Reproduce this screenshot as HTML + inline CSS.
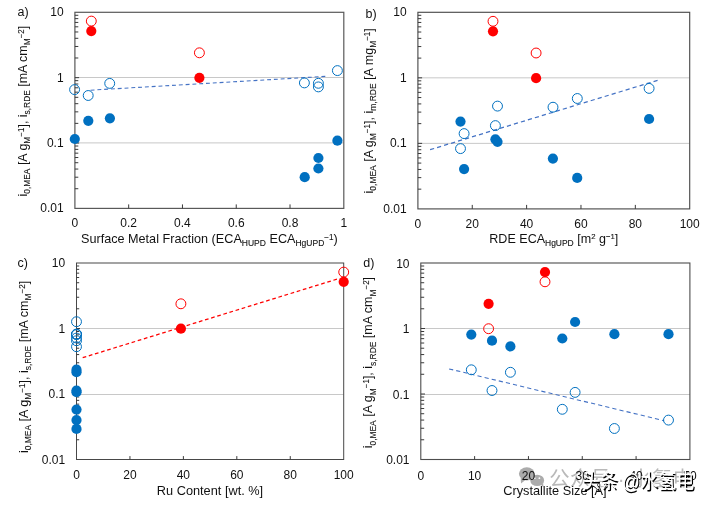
<!DOCTYPE html>
<html lang="en">
<head>
<meta charset="utf-8">
<title>Figure</title>
<style>
html, body { margin: 0; padding: 0; background: #ffffff; }
body { width: 710px; height: 505px; overflow: hidden; }
svg { display: block; font-family: "Liberation Sans", "Noto Sans CJK SC", sans-serif; fill: #111111; }
svg text { white-space: pre; }
</style>
</head>
<body>
<svg width="710" height="505" viewBox="0 0 710 505">
<rect x="0" y="0" width="710" height="505" fill="#ffffff"/>
<g fill="#ababab" transform="translate(0.2,0.6)"><ellipse cx="526.6" cy="473.2" rx="7.9" ry="6.6"/><path d="M520.5 477.5 L520.8 482.8 L525.5 479.2 Z"/><ellipse cx="537" cy="479.8" rx="6.9" ry="5.7"/><path d="M540.5 484 L543.2 487 L543 483 Z"/></g>
<circle cx="534.7" cy="478.2" r="0.9" fill="#fff"/><circle cx="539.4" cy="478.2" r="0.9" fill="#fff"/>
<text x="549.3" y="485.6" font-size="20.4" fill="#b9b9b9" textLength="143.5" lengthAdjust="spacing">公众号 · 水氢电</text>
<line x1="74.9" y1="77.50" x2="343.8" y2="77.50" stroke="#C8C8C8" stroke-width="1"/>
<line x1="74.9" y1="142.90" x2="343.8" y2="142.90" stroke="#C8C8C8" stroke-width="1"/>
<rect x="74.9" y="12.3" width="268.90" height="196.10" fill="none" stroke="#595959" stroke-width="1.2"/>
<line x1="74.9" y1="188.72" x2="78.30000000000001" y2="188.72" stroke="#3a3a3a" stroke-width="1"/>
<line x1="74.9" y1="177.21" x2="78.30000000000001" y2="177.21" stroke="#3a3a3a" stroke-width="1"/>
<line x1="74.9" y1="169.05" x2="78.30000000000001" y2="169.05" stroke="#3a3a3a" stroke-width="1"/>
<line x1="74.9" y1="162.71" x2="78.30000000000001" y2="162.71" stroke="#3a3a3a" stroke-width="1"/>
<line x1="74.9" y1="157.53" x2="78.30000000000001" y2="157.53" stroke="#3a3a3a" stroke-width="1"/>
<line x1="74.9" y1="153.16" x2="78.30000000000001" y2="153.16" stroke="#3a3a3a" stroke-width="1"/>
<line x1="74.9" y1="149.37" x2="78.30000000000001" y2="149.37" stroke="#3a3a3a" stroke-width="1"/>
<line x1="74.9" y1="146.02" x2="78.30000000000001" y2="146.02" stroke="#3a3a3a" stroke-width="1"/>
<line x1="74.9" y1="143.03" x2="79.10000000000001" y2="143.03" stroke="#3a3a3a" stroke-width="1"/>
<line x1="74.9" y1="123.36" x2="78.30000000000001" y2="123.36" stroke="#3a3a3a" stroke-width="1"/>
<line x1="74.9" y1="111.85" x2="78.30000000000001" y2="111.85" stroke="#3a3a3a" stroke-width="1"/>
<line x1="74.9" y1="103.68" x2="78.30000000000001" y2="103.68" stroke="#3a3a3a" stroke-width="1"/>
<line x1="74.9" y1="97.34" x2="78.30000000000001" y2="97.34" stroke="#3a3a3a" stroke-width="1"/>
<line x1="74.9" y1="92.17" x2="78.30000000000001" y2="92.17" stroke="#3a3a3a" stroke-width="1"/>
<line x1="74.9" y1="87.79" x2="78.30000000000001" y2="87.79" stroke="#3a3a3a" stroke-width="1"/>
<line x1="74.9" y1="84.00" x2="78.30000000000001" y2="84.00" stroke="#3a3a3a" stroke-width="1"/>
<line x1="74.9" y1="80.66" x2="78.30000000000001" y2="80.66" stroke="#3a3a3a" stroke-width="1"/>
<line x1="74.9" y1="77.67" x2="79.10000000000001" y2="77.67" stroke="#3a3a3a" stroke-width="1"/>
<line x1="74.9" y1="57.99" x2="78.30000000000001" y2="57.99" stroke="#3a3a3a" stroke-width="1"/>
<line x1="74.9" y1="46.48" x2="78.30000000000001" y2="46.48" stroke="#3a3a3a" stroke-width="1"/>
<line x1="74.9" y1="38.31" x2="78.30000000000001" y2="38.31" stroke="#3a3a3a" stroke-width="1"/>
<line x1="74.9" y1="31.98" x2="78.30000000000001" y2="31.98" stroke="#3a3a3a" stroke-width="1"/>
<line x1="74.9" y1="26.80" x2="78.30000000000001" y2="26.80" stroke="#3a3a3a" stroke-width="1"/>
<line x1="74.9" y1="22.43" x2="78.30000000000001" y2="22.43" stroke="#3a3a3a" stroke-width="1"/>
<line x1="74.9" y1="18.63" x2="78.30000000000001" y2="18.63" stroke="#3a3a3a" stroke-width="1"/>
<line x1="74.9" y1="15.29" x2="78.30000000000001" y2="15.29" stroke="#3a3a3a" stroke-width="1"/>
<line x1="128.68" y1="208.4" x2="128.68" y2="204.4" stroke="#3a3a3a" stroke-width="1"/>
<line x1="182.46" y1="208.4" x2="182.46" y2="204.4" stroke="#3a3a3a" stroke-width="1"/>
<line x1="236.24" y1="208.4" x2="236.24" y2="204.4" stroke="#3a3a3a" stroke-width="1"/>
<line x1="290.02" y1="208.4" x2="290.02" y2="204.4" stroke="#3a3a3a" stroke-width="1"/>
<text x="63.60" y="16.20" text-anchor="end" font-size="12">10</text>
<text x="63.60" y="81.57" text-anchor="end" font-size="12">1</text>
<text x="63.60" y="146.93" text-anchor="end" font-size="12">0.1</text>
<text x="63.60" y="212.30" text-anchor="end" font-size="12">0.01</text>
<text x="74.90" y="226.70" text-anchor="middle" font-size="12">0</text>
<text x="128.68" y="226.70" text-anchor="middle" font-size="12">0.2</text>
<text x="182.46" y="226.70" text-anchor="middle" font-size="12">0.4</text>
<text x="236.24" y="226.70" text-anchor="middle" font-size="12">0.6</text>
<text x="290.02" y="226.70" text-anchor="middle" font-size="12">0.8</text>
<text x="343.80" y="226.70" text-anchor="middle" font-size="12">1</text>
<line x1="90.6" y1="90.2" x2="326.8" y2="76.3" stroke="#4472C4" stroke-width="1.1" stroke-dasharray="3.9 2.9"/>
<circle cx="74.80" cy="139.00" r="5.1" fill="#0070C0"/>
<circle cx="88.30" cy="120.80" r="5.1" fill="#0070C0"/>
<circle cx="109.90" cy="118.30" r="5.1" fill="#0070C0"/>
<circle cx="304.70" cy="177.20" r="5.1" fill="#0070C0"/>
<circle cx="318.40" cy="158.00" r="5.1" fill="#0070C0"/>
<circle cx="318.40" cy="168.50" r="5.1" fill="#0070C0"/>
<circle cx="337.40" cy="140.70" r="5.1" fill="#0070C0"/>
<circle cx="74.60" cy="89.60" r="4.95" fill="none" stroke="#0070C0" stroke-width="1.0"/>
<circle cx="88.20" cy="95.50" r="4.95" fill="none" stroke="#0070C0" stroke-width="1.0"/>
<circle cx="109.70" cy="83.40" r="4.95" fill="none" stroke="#0070C0" stroke-width="1.0"/>
<circle cx="304.40" cy="82.90" r="4.95" fill="none" stroke="#0070C0" stroke-width="1.0"/>
<circle cx="318.40" cy="83.30" r="4.95" fill="none" stroke="#0070C0" stroke-width="1.0"/>
<circle cx="318.40" cy="86.90" r="4.95" fill="none" stroke="#0070C0" stroke-width="1.0"/>
<circle cx="337.40" cy="70.60" r="4.95" fill="none" stroke="#0070C0" stroke-width="1.0"/>
<circle cx="91.30" cy="31.10" r="5.1" fill="#FF0000"/>
<circle cx="199.40" cy="77.80" r="5.1" fill="#FF0000"/>
<circle cx="91.30" cy="21.10" r="4.95" fill="none" stroke="#FF0000" stroke-width="1.0"/>
<circle cx="199.40" cy="52.80" r="4.95" fill="none" stroke="#FF0000" stroke-width="1.0"/>
<text transform="translate(26.7,111.1) rotate(-90) scale(0.976,1)" text-anchor="middle" font-size="12.75">i<tspan dy="3.30" font-size="8.6" stroke="#111111" stroke-width="0.1">0,MEA</tspan><tspan dy="-3.30"> [A g</tspan><tspan dy="3.30" font-size="8.6" stroke="#111111" stroke-width="0.1">M</tspan><tspan dy="-6.50" font-size="8.2" stroke="#111111" stroke-width="0.1">−1</tspan><tspan dy="3.20">], i</tspan><tspan dy="3.30" font-size="8.6" stroke="#111111" stroke-width="0.1">s,RDE</tspan><tspan dy="-3.30"> [mA cm</tspan><tspan dy="3.30" font-size="8.6" stroke="#111111" stroke-width="0.1">M</tspan><tspan dy="-6.50" font-size="8.2" stroke="#111111" stroke-width="0.1">−2</tspan><tspan dy="3.20">]</tspan></text>
<text x="17.5" y="16" font-size="12.5">a)</text>
<text transform="translate(209.4,243) scale(0.992,1)" text-anchor="middle" font-size="12.75">Surface Metal Fraction (ECA<tspan dy="3.30" font-size="8.6" stroke="#111111" stroke-width="0.1">HUPD</tspan><tspan dy="-3.30"> ECA</tspan><tspan dy="3.30" font-size="8.6" stroke="#111111" stroke-width="0.1">HgUPD</tspan><tspan dy="-6.50" font-size="8.2" stroke="#111111" stroke-width="0.1">−1</tspan><tspan dy="3.20">)</tspan></text>
<line x1="417.9" y1="77.83" x2="689.7" y2="77.83" stroke="#C8C8C8" stroke-width="1"/>
<line x1="417.9" y1="143.37" x2="689.7" y2="143.37" stroke="#C8C8C8" stroke-width="1"/>
<rect x="417.9" y="12.3" width="271.80" height="196.60" fill="none" stroke="#4d4d4d" stroke-width="1.15"/>
<line x1="417.9" y1="189.17" x2="421.29999999999995" y2="189.17" stroke="#3a3a3a" stroke-width="1"/>
<line x1="417.9" y1="177.63" x2="421.29999999999995" y2="177.63" stroke="#3a3a3a" stroke-width="1"/>
<line x1="417.9" y1="169.45" x2="421.29999999999995" y2="169.45" stroke="#3a3a3a" stroke-width="1"/>
<line x1="417.9" y1="163.09" x2="421.29999999999995" y2="163.09" stroke="#3a3a3a" stroke-width="1"/>
<line x1="417.9" y1="157.91" x2="421.29999999999995" y2="157.91" stroke="#3a3a3a" stroke-width="1"/>
<line x1="417.9" y1="153.52" x2="421.29999999999995" y2="153.52" stroke="#3a3a3a" stroke-width="1"/>
<line x1="417.9" y1="149.72" x2="421.29999999999995" y2="149.72" stroke="#3a3a3a" stroke-width="1"/>
<line x1="417.9" y1="146.37" x2="421.29999999999995" y2="146.37" stroke="#3a3a3a" stroke-width="1"/>
<line x1="417.9" y1="143.37" x2="422.09999999999997" y2="143.37" stroke="#3a3a3a" stroke-width="1"/>
<line x1="417.9" y1="123.64" x2="421.29999999999995" y2="123.64" stroke="#3a3a3a" stroke-width="1"/>
<line x1="417.9" y1="112.10" x2="421.29999999999995" y2="112.10" stroke="#3a3a3a" stroke-width="1"/>
<line x1="417.9" y1="103.91" x2="421.29999999999995" y2="103.91" stroke="#3a3a3a" stroke-width="1"/>
<line x1="417.9" y1="97.56" x2="421.29999999999995" y2="97.56" stroke="#3a3a3a" stroke-width="1"/>
<line x1="417.9" y1="92.37" x2="421.29999999999995" y2="92.37" stroke="#3a3a3a" stroke-width="1"/>
<line x1="417.9" y1="87.98" x2="421.29999999999995" y2="87.98" stroke="#3a3a3a" stroke-width="1"/>
<line x1="417.9" y1="84.18" x2="421.29999999999995" y2="84.18" stroke="#3a3a3a" stroke-width="1"/>
<line x1="417.9" y1="80.83" x2="421.29999999999995" y2="80.83" stroke="#3a3a3a" stroke-width="1"/>
<line x1="417.9" y1="77.83" x2="422.09999999999997" y2="77.83" stroke="#3a3a3a" stroke-width="1"/>
<line x1="417.9" y1="58.11" x2="421.29999999999995" y2="58.11" stroke="#3a3a3a" stroke-width="1"/>
<line x1="417.9" y1="46.57" x2="421.29999999999995" y2="46.57" stroke="#3a3a3a" stroke-width="1"/>
<line x1="417.9" y1="38.38" x2="421.29999999999995" y2="38.38" stroke="#3a3a3a" stroke-width="1"/>
<line x1="417.9" y1="32.03" x2="421.29999999999995" y2="32.03" stroke="#3a3a3a" stroke-width="1"/>
<line x1="417.9" y1="26.84" x2="421.29999999999995" y2="26.84" stroke="#3a3a3a" stroke-width="1"/>
<line x1="417.9" y1="22.45" x2="421.29999999999995" y2="22.45" stroke="#3a3a3a" stroke-width="1"/>
<line x1="417.9" y1="18.65" x2="421.29999999999995" y2="18.65" stroke="#3a3a3a" stroke-width="1"/>
<line x1="417.9" y1="15.30" x2="421.29999999999995" y2="15.30" stroke="#3a3a3a" stroke-width="1"/>
<line x1="472.26" y1="208.9" x2="472.26" y2="204.9" stroke="#3a3a3a" stroke-width="1"/>
<line x1="526.62" y1="208.9" x2="526.62" y2="204.9" stroke="#3a3a3a" stroke-width="1"/>
<line x1="580.98" y1="208.9" x2="580.98" y2="204.9" stroke="#3a3a3a" stroke-width="1"/>
<line x1="635.34" y1="208.9" x2="635.34" y2="204.9" stroke="#3a3a3a" stroke-width="1"/>
<text x="406.60" y="16.20" text-anchor="end" font-size="12">10</text>
<text x="406.60" y="81.73" text-anchor="end" font-size="12">1</text>
<text x="406.60" y="147.27" text-anchor="end" font-size="12">0.1</text>
<text x="406.60" y="212.80" text-anchor="end" font-size="12">0.01</text>
<text x="417.90" y="227.70" text-anchor="middle" font-size="12">0</text>
<text x="472.26" y="227.70" text-anchor="middle" font-size="12">20</text>
<text x="526.62" y="227.70" text-anchor="middle" font-size="12">40</text>
<text x="580.98" y="227.70" text-anchor="middle" font-size="12">60</text>
<text x="635.34" y="227.70" text-anchor="middle" font-size="12">80</text>
<text x="689.70" y="227.70" text-anchor="middle" font-size="12">100</text>
<line x1="430.1" y1="149.7" x2="658.4" y2="80.1" stroke="#4472C4" stroke-width="1.25" stroke-dasharray="4.2 3.1"/>
<circle cx="460.50" cy="121.60" r="5.1" fill="#0070C0"/>
<circle cx="464.10" cy="169.10" r="5.1" fill="#0070C0"/>
<circle cx="495.40" cy="139.30" r="5.1" fill="#0070C0"/>
<circle cx="497.50" cy="141.80" r="5.1" fill="#0070C0"/>
<circle cx="552.90" cy="158.60" r="5.1" fill="#0070C0"/>
<circle cx="577.20" cy="177.90" r="5.1" fill="#0070C0"/>
<circle cx="649.10" cy="119.00" r="5.1" fill="#0070C0"/>
<circle cx="460.50" cy="148.60" r="4.95" fill="none" stroke="#0070C0" stroke-width="1.0"/>
<circle cx="464.10" cy="133.60" r="4.95" fill="none" stroke="#0070C0" stroke-width="1.0"/>
<circle cx="495.40" cy="125.60" r="4.95" fill="none" stroke="#0070C0" stroke-width="1.0"/>
<circle cx="497.50" cy="106.10" r="4.95" fill="none" stroke="#0070C0" stroke-width="1.0"/>
<circle cx="553.00" cy="107.20" r="4.95" fill="none" stroke="#0070C0" stroke-width="1.0"/>
<circle cx="577.30" cy="98.50" r="4.95" fill="none" stroke="#0070C0" stroke-width="1.0"/>
<circle cx="649.10" cy="88.40" r="4.95" fill="none" stroke="#0070C0" stroke-width="1.0"/>
<circle cx="493.00" cy="31.30" r="5.1" fill="#FF0000"/>
<circle cx="536.10" cy="78.20" r="5.1" fill="#FF0000"/>
<circle cx="493.00" cy="21.30" r="4.95" fill="none" stroke="#FF0000" stroke-width="1.0"/>
<circle cx="536.10" cy="53.00" r="4.95" fill="none" stroke="#FF0000" stroke-width="1.0"/>
<text transform="translate(372.7,110.8) rotate(-90) scale(0.985,1)" text-anchor="middle" font-size="12.75">i<tspan dy="3.30" font-size="8.6" stroke="#111111" stroke-width="0.1">0,MEA</tspan><tspan dy="-3.30"> [A g</tspan><tspan dy="3.30" font-size="8.6" stroke="#111111" stroke-width="0.1">M</tspan><tspan dy="-6.50" font-size="8.2" stroke="#111111" stroke-width="0.1">−1</tspan><tspan dy="3.20">], i</tspan><tspan dy="3.30" font-size="8.6" stroke="#111111" stroke-width="0.1">m,RDE</tspan><tspan dy="-3.30"> [A mg</tspan><tspan dy="3.30" font-size="8.6" stroke="#111111" stroke-width="0.1">M</tspan><tspan dy="-6.50" font-size="8.2" stroke="#111111" stroke-width="0.1">−1</tspan><tspan dy="3.20">]</tspan></text>
<text x="365.5" y="18" font-size="12.5">b)</text>
<text transform="translate(553.8,243) scale(0.985,1)" text-anchor="middle" font-size="12.75">RDE ECA<tspan dy="3.30" font-size="8.6" stroke="#111111" stroke-width="0.1">HgUPD</tspan><tspan dy="-3.30"> [m</tspan><tspan dy="-4.30" font-size="7.9" stroke="#111111" stroke-width="0.1">2</tspan><tspan dy="4.30"> g</tspan><tspan dy="-4.30" font-size="7.9" stroke="#111111" stroke-width="0.1">−1</tspan><tspan dy="4.30">]</tspan></text>
<line x1="76.5" y1="328.50" x2="343.7" y2="328.50" stroke="#C8C8C8" stroke-width="1"/>
<line x1="76.5" y1="394.50" x2="343.7" y2="394.50" stroke="#C8C8C8" stroke-width="1"/>
<rect x="76.5" y="263.0" width="267.20" height="196.50" fill="none" stroke="#484848" stroke-width="1.0"/>
<line x1="76.5" y1="439.78" x2="79.2" y2="439.78" stroke="#3a3a3a" stroke-width="1"/>
<line x1="76.5" y1="428.25" x2="79.2" y2="428.25" stroke="#3a3a3a" stroke-width="1"/>
<line x1="76.5" y1="420.07" x2="79.2" y2="420.07" stroke="#3a3a3a" stroke-width="1"/>
<line x1="76.5" y1="413.72" x2="79.2" y2="413.72" stroke="#3a3a3a" stroke-width="1"/>
<line x1="76.5" y1="408.53" x2="79.2" y2="408.53" stroke="#3a3a3a" stroke-width="1"/>
<line x1="76.5" y1="404.15" x2="79.2" y2="404.15" stroke="#3a3a3a" stroke-width="1"/>
<line x1="76.5" y1="400.35" x2="79.2" y2="400.35" stroke="#3a3a3a" stroke-width="1"/>
<line x1="76.5" y1="397.00" x2="79.2" y2="397.00" stroke="#3a3a3a" stroke-width="1"/>
<line x1="76.5" y1="394.00" x2="80.0" y2="394.00" stroke="#3a3a3a" stroke-width="1"/>
<line x1="76.5" y1="374.28" x2="79.2" y2="374.28" stroke="#3a3a3a" stroke-width="1"/>
<line x1="76.5" y1="362.75" x2="79.2" y2="362.75" stroke="#3a3a3a" stroke-width="1"/>
<line x1="76.5" y1="354.57" x2="79.2" y2="354.57" stroke="#3a3a3a" stroke-width="1"/>
<line x1="76.5" y1="348.22" x2="79.2" y2="348.22" stroke="#3a3a3a" stroke-width="1"/>
<line x1="76.5" y1="343.03" x2="79.2" y2="343.03" stroke="#3a3a3a" stroke-width="1"/>
<line x1="76.5" y1="338.65" x2="79.2" y2="338.65" stroke="#3a3a3a" stroke-width="1"/>
<line x1="76.5" y1="334.85" x2="79.2" y2="334.85" stroke="#3a3a3a" stroke-width="1"/>
<line x1="76.5" y1="331.50" x2="79.2" y2="331.50" stroke="#3a3a3a" stroke-width="1"/>
<line x1="76.5" y1="328.50" x2="80.0" y2="328.50" stroke="#3a3a3a" stroke-width="1"/>
<line x1="76.5" y1="308.78" x2="79.2" y2="308.78" stroke="#3a3a3a" stroke-width="1"/>
<line x1="76.5" y1="297.25" x2="79.2" y2="297.25" stroke="#3a3a3a" stroke-width="1"/>
<line x1="76.5" y1="289.07" x2="79.2" y2="289.07" stroke="#3a3a3a" stroke-width="1"/>
<line x1="76.5" y1="282.72" x2="79.2" y2="282.72" stroke="#3a3a3a" stroke-width="1"/>
<line x1="76.5" y1="277.53" x2="79.2" y2="277.53" stroke="#3a3a3a" stroke-width="1"/>
<line x1="76.5" y1="273.15" x2="79.2" y2="273.15" stroke="#3a3a3a" stroke-width="1"/>
<line x1="76.5" y1="269.35" x2="79.2" y2="269.35" stroke="#3a3a3a" stroke-width="1"/>
<line x1="76.5" y1="266.00" x2="79.2" y2="266.00" stroke="#3a3a3a" stroke-width="1"/>
<line x1="129.94" y1="459.5" x2="129.94" y2="456.1" stroke="#3a3a3a" stroke-width="1"/>
<line x1="183.38" y1="459.5" x2="183.38" y2="456.1" stroke="#3a3a3a" stroke-width="1"/>
<line x1="236.82" y1="459.5" x2="236.82" y2="456.1" stroke="#3a3a3a" stroke-width="1"/>
<line x1="290.26" y1="459.5" x2="290.26" y2="456.1" stroke="#3a3a3a" stroke-width="1"/>
<text x="65.20" y="267.40" text-anchor="end" font-size="12">10</text>
<text x="65.20" y="332.90" text-anchor="end" font-size="12">1</text>
<text x="65.20" y="398.40" text-anchor="end" font-size="12">0.1</text>
<text x="65.20" y="463.90" text-anchor="end" font-size="12">0.01</text>
<text x="76.50" y="479.00" text-anchor="middle" font-size="12">0</text>
<text x="129.94" y="479.00" text-anchor="middle" font-size="12">20</text>
<text x="183.38" y="479.00" text-anchor="middle" font-size="12">40</text>
<text x="236.82" y="479.00" text-anchor="middle" font-size="12">60</text>
<text x="290.26" y="479.00" text-anchor="middle" font-size="12">80</text>
<text x="343.70" y="479.00" text-anchor="middle" font-size="12">100</text>
<line x1="82.7" y1="357.7" x2="339.4" y2="278.4" stroke="#FF0000" stroke-width="1.25" stroke-dasharray="3.7 2.7"/>
<circle cx="76.50" cy="390.52" r="5.1" fill="#0070C0"/>
<circle cx="76.50" cy="372.23" r="5.1" fill="#0070C0"/>
<circle cx="76.50" cy="369.70" r="5.1" fill="#0070C0"/>
<circle cx="76.50" cy="428.92" r="5.1" fill="#0070C0"/>
<circle cx="76.50" cy="409.59" r="5.1" fill="#0070C0"/>
<circle cx="76.50" cy="420.07" r="5.1" fill="#0070C0"/>
<circle cx="76.50" cy="392.21" r="5.1" fill="#0070C0"/>
<circle cx="76.50" cy="340.75" r="4.95" fill="none" stroke="#0070C0" stroke-width="1.0"/>
<circle cx="76.50" cy="346.72" r="4.95" fill="none" stroke="#0070C0" stroke-width="1.0"/>
<circle cx="76.50" cy="334.49" r="4.95" fill="none" stroke="#0070C0" stroke-width="1.0"/>
<circle cx="76.50" cy="334.04" r="4.95" fill="none" stroke="#0070C0" stroke-width="1.0"/>
<circle cx="76.50" cy="334.49" r="4.95" fill="none" stroke="#0070C0" stroke-width="1.0"/>
<circle cx="76.50" cy="338.04" r="4.95" fill="none" stroke="#0070C0" stroke-width="1.0"/>
<circle cx="76.50" cy="321.70" r="4.95" fill="none" stroke="#0070C0" stroke-width="1.0"/>
<circle cx="180.90" cy="328.70" r="5.1" fill="#FF0000"/>
<circle cx="343.70" cy="281.80" r="5.1" fill="#FF0000"/>
<circle cx="180.90" cy="303.80" r="4.95" fill="none" stroke="#FF0000" stroke-width="1.0"/>
<circle cx="343.70" cy="272.10" r="4.95" fill="none" stroke="#FF0000" stroke-width="1.0"/>
<text transform="translate(27.8,366.9) rotate(-90) scale(0.9855,1)" text-anchor="middle" font-size="12.75">i<tspan dy="3.30" font-size="8.6" stroke="#111111" stroke-width="0.1">0,MEA</tspan><tspan dy="-3.30"> [A g</tspan><tspan dy="3.30" font-size="8.6" stroke="#111111" stroke-width="0.1">M</tspan><tspan dy="-6.50" font-size="8.2" stroke="#111111" stroke-width="0.1">−1</tspan><tspan dy="3.20">], i</tspan><tspan dy="3.30" font-size="8.6" stroke="#111111" stroke-width="0.1">s,RDE</tspan><tspan dy="-3.30"> [mA cm</tspan><tspan dy="3.30" font-size="8.6" stroke="#111111" stroke-width="0.1">M</tspan><tspan dy="-6.50" font-size="8.2" stroke="#111111" stroke-width="0.1">−2</tspan><tspan dy="3.20">]</tspan></text>
<text x="17.6" y="267.2" font-size="12.5">c)</text>
<text x="210" y="494.7" text-anchor="middle" font-size="12.75">Ru Content [wt. %]</text>
<line x1="420.8" y1="328.50" x2="689.9" y2="328.50" stroke="#C8C8C8" stroke-width="1"/>
<line x1="420.8" y1="394.50" x2="689.9" y2="394.50" stroke="#C8C8C8" stroke-width="1"/>
<rect x="420.8" y="263.0" width="269.10" height="196.50" fill="none" stroke="#4d4d4d" stroke-width="1.1"/>
<line x1="420.8" y1="439.78" x2="424.2" y2="439.78" stroke="#3a3a3a" stroke-width="1"/>
<line x1="420.8" y1="428.25" x2="424.2" y2="428.25" stroke="#3a3a3a" stroke-width="1"/>
<line x1="420.8" y1="420.07" x2="424.2" y2="420.07" stroke="#3a3a3a" stroke-width="1"/>
<line x1="420.8" y1="413.72" x2="424.2" y2="413.72" stroke="#3a3a3a" stroke-width="1"/>
<line x1="420.8" y1="408.53" x2="424.2" y2="408.53" stroke="#3a3a3a" stroke-width="1"/>
<line x1="420.8" y1="404.15" x2="424.2" y2="404.15" stroke="#3a3a3a" stroke-width="1"/>
<line x1="420.8" y1="400.35" x2="424.2" y2="400.35" stroke="#3a3a3a" stroke-width="1"/>
<line x1="420.8" y1="397.00" x2="424.2" y2="397.00" stroke="#3a3a3a" stroke-width="1"/>
<line x1="420.8" y1="394.00" x2="425.0" y2="394.00" stroke="#3a3a3a" stroke-width="1"/>
<line x1="420.8" y1="374.28" x2="424.2" y2="374.28" stroke="#3a3a3a" stroke-width="1"/>
<line x1="420.8" y1="362.75" x2="424.2" y2="362.75" stroke="#3a3a3a" stroke-width="1"/>
<line x1="420.8" y1="354.57" x2="424.2" y2="354.57" stroke="#3a3a3a" stroke-width="1"/>
<line x1="420.8" y1="348.22" x2="424.2" y2="348.22" stroke="#3a3a3a" stroke-width="1"/>
<line x1="420.8" y1="343.03" x2="424.2" y2="343.03" stroke="#3a3a3a" stroke-width="1"/>
<line x1="420.8" y1="338.65" x2="424.2" y2="338.65" stroke="#3a3a3a" stroke-width="1"/>
<line x1="420.8" y1="334.85" x2="424.2" y2="334.85" stroke="#3a3a3a" stroke-width="1"/>
<line x1="420.8" y1="331.50" x2="424.2" y2="331.50" stroke="#3a3a3a" stroke-width="1"/>
<line x1="420.8" y1="328.50" x2="425.0" y2="328.50" stroke="#3a3a3a" stroke-width="1"/>
<line x1="420.8" y1="308.78" x2="424.2" y2="308.78" stroke="#3a3a3a" stroke-width="1"/>
<line x1="420.8" y1="297.25" x2="424.2" y2="297.25" stroke="#3a3a3a" stroke-width="1"/>
<line x1="420.8" y1="289.07" x2="424.2" y2="289.07" stroke="#3a3a3a" stroke-width="1"/>
<line x1="420.8" y1="282.72" x2="424.2" y2="282.72" stroke="#3a3a3a" stroke-width="1"/>
<line x1="420.8" y1="277.53" x2="424.2" y2="277.53" stroke="#3a3a3a" stroke-width="1"/>
<line x1="420.8" y1="273.15" x2="424.2" y2="273.15" stroke="#3a3a3a" stroke-width="1"/>
<line x1="420.8" y1="269.35" x2="424.2" y2="269.35" stroke="#3a3a3a" stroke-width="1"/>
<line x1="420.8" y1="266.00" x2="424.2" y2="266.00" stroke="#3a3a3a" stroke-width="1"/>
<line x1="474.62" y1="459.5" x2="474.62" y2="456.1" stroke="#3a3a3a" stroke-width="1"/>
<line x1="528.44" y1="459.5" x2="528.44" y2="456.1" stroke="#3a3a3a" stroke-width="1"/>
<line x1="582.26" y1="459.5" x2="582.26" y2="456.1" stroke="#3a3a3a" stroke-width="1"/>
<line x1="636.08" y1="459.5" x2="636.08" y2="456.1" stroke="#3a3a3a" stroke-width="1"/>
<text x="409.50" y="267.50" text-anchor="end" font-size="12">10</text>
<text x="409.50" y="333.00" text-anchor="end" font-size="12">1</text>
<text x="409.50" y="398.50" text-anchor="end" font-size="12">0.1</text>
<text x="409.50" y="464.00" text-anchor="end" font-size="12">0.01</text>
<text x="420.80" y="479.60" text-anchor="middle" font-size="12">0</text>
<text x="474.62" y="479.60" text-anchor="middle" font-size="12">10</text>
<text x="528.44" y="479.60" text-anchor="middle" font-size="12">20</text>
<text x="582.26" y="479.60" text-anchor="middle" font-size="12">30</text>
<text x="636.08" y="479.60" text-anchor="middle" font-size="12">40</text>
<text x="689.90" y="479.60" text-anchor="middle" font-size="12">50</text>
<line x1="449.1" y1="368.9" x2="664.1" y2="420.7" stroke="#4472C4" stroke-width="1.08" stroke-dasharray="4.2 3.1"/>
<circle cx="471.30" cy="334.60" r="5.1" fill="#0070C0"/>
<circle cx="492.00" cy="340.70" r="5.1" fill="#0070C0"/>
<circle cx="510.40" cy="346.40" r="5.1" fill="#0070C0"/>
<circle cx="562.30" cy="338.50" r="5.1" fill="#0070C0"/>
<circle cx="575.10" cy="322.00" r="5.1" fill="#0070C0"/>
<circle cx="614.40" cy="334.20" r="5.1" fill="#0070C0"/>
<circle cx="668.50" cy="334.20" r="5.1" fill="#0070C0"/>
<circle cx="471.30" cy="369.80" r="4.95" fill="none" stroke="#0070C0" stroke-width="1.0"/>
<circle cx="492.00" cy="390.50" r="4.95" fill="none" stroke="#0070C0" stroke-width="1.0"/>
<circle cx="510.40" cy="372.30" r="4.95" fill="none" stroke="#0070C0" stroke-width="1.0"/>
<circle cx="562.30" cy="409.30" r="4.95" fill="none" stroke="#0070C0" stroke-width="1.0"/>
<circle cx="575.10" cy="392.40" r="4.95" fill="none" stroke="#0070C0" stroke-width="1.0"/>
<circle cx="614.40" cy="428.50" r="4.95" fill="none" stroke="#0070C0" stroke-width="1.0"/>
<circle cx="668.50" cy="420.10" r="4.95" fill="none" stroke="#0070C0" stroke-width="1.0"/>
<circle cx="488.60" cy="303.80" r="5.1" fill="#FF0000"/>
<circle cx="545.00" cy="272.10" r="5.1" fill="#FF0000"/>
<circle cx="488.60" cy="328.70" r="4.95" fill="none" stroke="#FF0000" stroke-width="1.0"/>
<circle cx="545.00" cy="281.80" r="4.95" fill="none" stroke="#FF0000" stroke-width="1.0"/>
<text transform="translate(372.3,362.6) rotate(-90) scale(0.98,1)" text-anchor="middle" font-size="12.75">i<tspan dy="3.30" font-size="8.6" stroke="#111111" stroke-width="0.1">0,MEA</tspan><tspan dy="-3.30"> [A g</tspan><tspan dy="3.30" font-size="8.6" stroke="#111111" stroke-width="0.1">M</tspan><tspan dy="-6.50" font-size="8.2" stroke="#111111" stroke-width="0.1">−1</tspan><tspan dy="3.20">], i</tspan><tspan dy="3.30" font-size="8.6" stroke="#111111" stroke-width="0.1">s,RDE</tspan><tspan dy="-3.30"> [mA cm</tspan><tspan dy="3.30" font-size="8.6" stroke="#111111" stroke-width="0.1">M</tspan><tspan dy="-6.50" font-size="8.2" stroke="#111111" stroke-width="0.1">−2</tspan><tspan dy="3.20">]</tspan></text>
<text x="363.3" y="267.2" font-size="12.5">d)</text>
<text x="554.9" y="494.7" text-anchor="middle" font-size="12.75">Crystallite Size [Å]</text>
<text transform="translate(583.5,489.6) scale(0.87,1)" font-size="20" letter-spacing="0.9" word-spacing="-2.6" fill="#000">头条 @水氢电</text>
<text transform="translate(582.2,488.3) scale(0.87,1)" font-size="20" letter-spacing="0.9" word-spacing="-2.6" fill="#fff">头条 @水氢电</text>
</svg>
</body>
</html>
